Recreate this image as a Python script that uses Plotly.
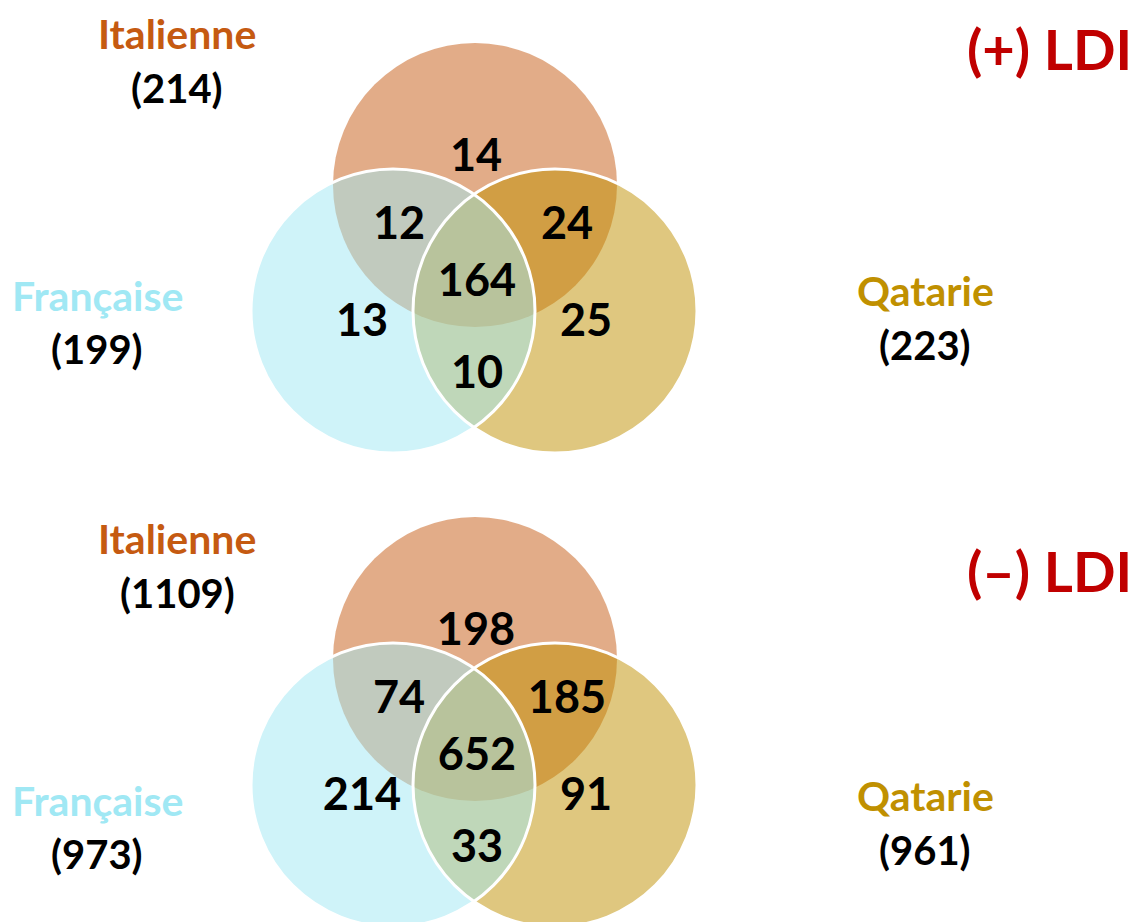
import plotly.graph_objects as go

# ---- data ----
set_names = ["Italienne", "Française", "Qatarie"]
panel_titles = ["(+) LDI", "(–) LDI"]
plus_totals = [214, 199, 223]
minus_totals = [1109, 973, 961]
# region order: I only, I∩F, I∩Q, I∩F∩Q, F only, Q only, F∩Q
region_keys = ["I", "IF", "IQ", "IFQ", "F", "Q", "FQ"]
plus_counts = [14, 12, 24, 164, 13, 25, 10]
minus_counts = [198, 74, 185, 652, 214, 91, 33]

# ---- style / layout ----
W, H = 1138, 922
FONT = "Lato"
set_colors = {"Italienne": "#C55A11", "Française": "#A0E8F4", "Qatarie": "#C09000"}
title_color = "#C00000"

R = 142
centers = {"Italienne": (475, 185), "Française": (393, 311), "Qatarie": (555, 311)}
region_offsets = {
    "I": (476, 160), "IF": (399, 228), "IQ": (567, 228), "IFQ": (477, 285),
    "F": (362, 325), "Q": (586, 325), "FQ": (477, 377),
}
panel_dy_circles = [0, 474]
label_pos = {
    "Italienne": (177, 33, 88),
    "Française": (97, 295, 349),
    "Qatarie": (925, 290, 345),
}
panel_dy_labels = [0, 505]
title_pos = [(1134, 48), (1134, 570)]

fig = go.Figure()
shapes = []
annotations = []

panels = [(plus_totals, plus_counts), (minus_totals, minus_counts)]
draw_order = ["Italienne", "Qatarie", "Française"]

for p, (totals, counts) in enumerate(panels):
    dy = panel_dy_circles[p]
    for name in draw_order:
        cx, cy = centers[name]
        shapes.append(dict(type="circle", xref="x", yref="y",
                           x0=cx - R, x1=cx + R, y0=cy + dy - R, y1=cy + dy + R,
                           fillcolor=set_colors[name], opacity=0.5,
                           line=dict(width=0), layer="below"))
    for name in ["Qatarie", "Française"]:
        cx, cy = centers[name]
        shapes.append(dict(type="circle", xref="x", yref="y",
                           x0=cx - R, x1=cx + R, y0=cy + dy - R, y1=cy + dy + R,
                           fillcolor="rgba(0,0,0,0)",
                           line=dict(width=3, color="white"), layer="below"))
    xs = [region_offsets[k][0] for k in region_keys]
    ys = [region_offsets[k][1] + dy for k in region_keys]
    fig.add_trace(go.Scatter(
        x=xs, y=ys, mode="text", text=[str(c) for c in counts],
        textfont=dict(family=FONT, size=45, color="black", weight="bold"),
        hoverinfo="skip", showlegend=False))

    dyl = panel_dy_labels[p]
    for i, name in enumerate(set_names):
        lx, ly1, ly2 = label_pos[name]
        annotations.append(dict(x=lx, y=ly1 + dyl, xref="x", yref="y", text=name,
                                showarrow=False, xanchor="center", yanchor="middle",
                                font=dict(family=FONT, size=41, color=set_colors[name], weight="bold")))
        annotations.append(dict(x=lx, y=ly2 + dyl, xref="x", yref="y", text=f"({totals[i]})",
                                showarrow=False, xanchor="center", yanchor="middle",
                                font=dict(family=FONT, size=40, color="black", weight="bold")))
    tx, ty = title_pos[p]
    annotations.append(dict(x=tx, y=ty, xref="x", yref="y", text=panel_titles[p],
                            showarrow=False, xanchor="right", yanchor="middle",
                            font=dict(family=FONT, size=56, color=title_color, weight="bold")))

fig.update_layout(
    width=W, height=H, margin=dict(l=0, r=0, t=0, b=0),
    paper_bgcolor="white", plot_bgcolor="white",
    xaxis=dict(range=[0, W], visible=False, fixedrange=True),
    yaxis=dict(range=[H, 0], visible=False, fixedrange=True),
    shapes=shapes, annotations=annotations, showlegend=False,
)
fig.write_html("out.html", config={"displayModeBar": False},
               post_script="document.body.style.margin='0';document.body.style.overflow='hidden';")
